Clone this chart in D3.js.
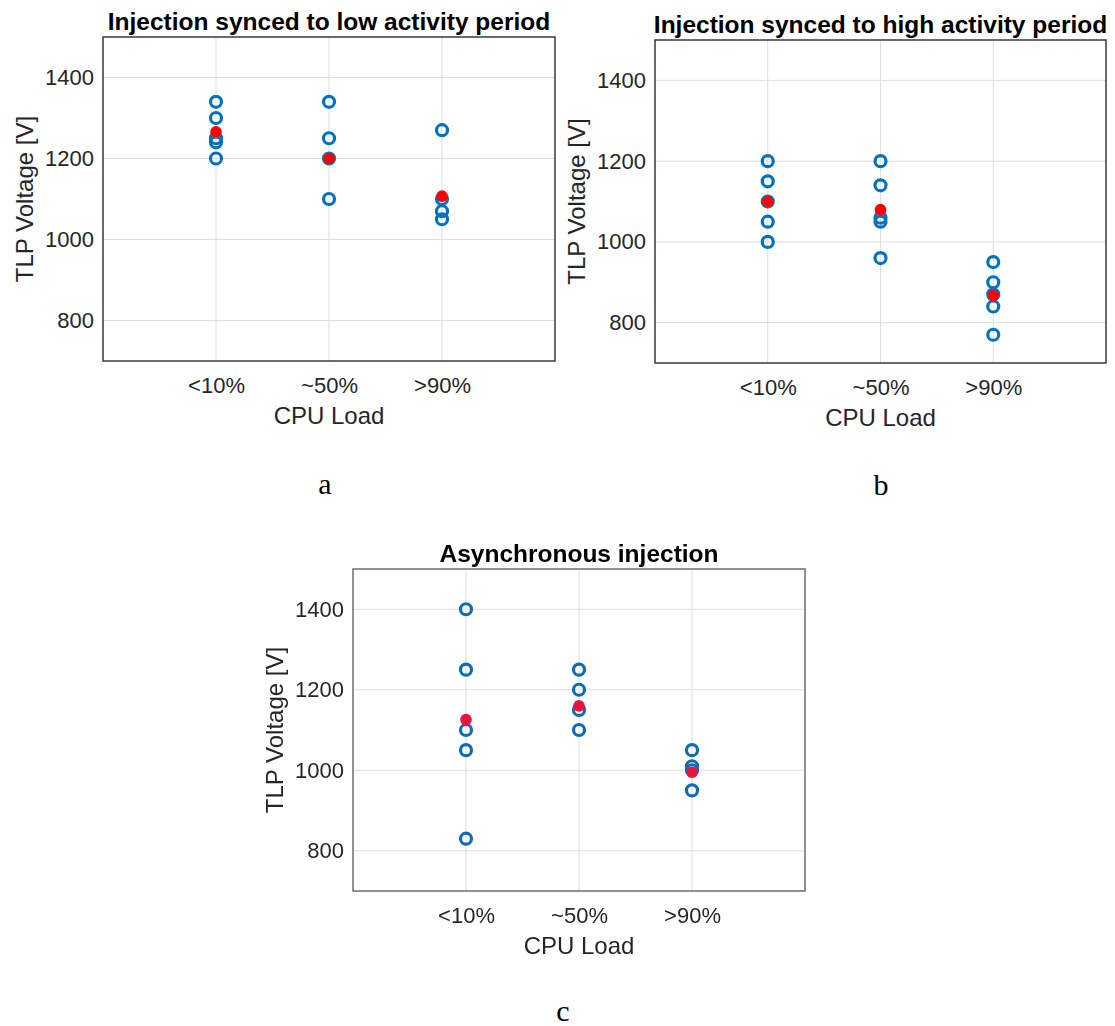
<!DOCTYPE html>
<html>
<head>
<meta charset="utf-8">
<script src="https://cdn.jsdelivr.net/npm/d3@7"></script>
<style>
  html, body { margin: 0; padding: 0; background: #ffffff; }
  svg { display: block; }
</style>
</head>
<body>
<svg id="fig" width="1115" height="1026"></svg>
<script>
// CPU load categories and y-axis ticks shared by all three panels
const categories = ["<10%", "~50%", ">90%"];
const yTicks = [800, 1000, 1200, 1400];
const yDomain = [700, 1500];

// (a) Injection synced to low activity period
const lowActivityPoints = [
  [1340, 1300, 1250, 1240, 1200],
  [1340, 1250, 1200, 1100],
  [1270, 1100, 1070, 1050]
];
const lowActivityMeans = [1266, 1200, 1107];

// (b) Injection synced to high activity period
const highActivityPoints = [
  [1200, 1150, 1100, 1050, 1000],
  [1200, 1140, 1060, 1050, 960],
  [950, 900, 870, 840, 770]
];
const highActivityMeans = [1100, 1080, 867];

// (c) Asynchronous injection
const asyncPoints = [
  [1400, 1250, 1100, 1050, 830],
  [1250, 1200, 1150, 1100],
  [1050, 1010, 1000, 950]
];
const asyncMeans = [1126, 1160, 995];

const svg = d3.select("#fig");
const FONT = "'Liberation Sans', Arial, sans-serif";

// soft focus used on the lower panel
svg.append("defs").append("filter").attr("id", "soft")
  .append("feGaussianBlur").attr("stdDeviation", 0.55);

function drawPanel(opt) {
  const g = svg.append("g");
  if (opt.soft) g.attr("filter", "url(#soft)");

  const x = d3.scalePoint().domain(categories).range([opt.left, opt.right]).padding(1);
  const y = d3.scaleLinear().domain(yDomain).range([opt.bottom, opt.top]);

  // grid
  g.append("g").selectAll("line.vg").data(categories).join("line")
    .attr("x1", d => x(d)).attr("x2", d => x(d))
    .attr("y1", opt.top).attr("y2", opt.bottom)
    .attr("stroke", "#dedede").attr("stroke-width", 1);
  g.append("g").selectAll("line.hg").data(yTicks).join("line")
    .attr("x1", opt.left).attr("x2", opt.right)
    .attr("y1", d => y(d)).attr("y2", d => y(d))
    .attr("stroke", "#dedede").attr("stroke-width", 1);

  // axes with tick labels
  const yAxis = d3.axisLeft(y).tickValues(yTicks).tickSize(0).tickPadding(9).tickFormat(d3.format("d"));
  const yg = g.append("g").attr("transform", `translate(${opt.left},0)`).call(yAxis);
  yg.select(".domain").remove();
  yg.selectAll("text").attr("font-family", FONT).attr("font-size", 22).attr("fill", "#262626");

  const xAxis = d3.axisBottom(x).tickSize(0).tickPadding(16);
  const xg = g.append("g").attr("transform", `translate(0,${opt.bottom})`).call(xAxis);
  xg.select(".domain").remove();
  xg.selectAll("text").attr("font-family", FONT).attr("font-size", 22).attr("fill", "#262626");

  // frame
  g.append("rect")
    .attr("x", opt.left).attr("y", opt.top)
    .attr("width", opt.right - opt.left).attr("height", opt.bottom - opt.top)
    .attr("fill", "none").attr("stroke", opt.frame).attr("stroke-width", 1.5);

  // measurements: open circles
  const pts = [];
  opt.points.forEach((arr, i) => arr.forEach(v => pts.push({ c: categories[i], v })));
  g.append("g").selectAll("circle").data(pts).join("circle")
    .attr("cx", d => x(d.c)).attr("cy", d => y(d.v)).attr("r", 5.5)
    .attr("fill", "none").attr("stroke", opt.blue).attr("stroke-width", 3.2);

  // averages: filled red dots
  g.append("g").selectAll("circle").data(opt.means).join("circle")
    .attr("cx", (d, i) => x(categories[i])).attr("cy", d => y(d)).attr("r", 5.8)
    .attr("fill", opt.red);

  // title and axis labels
  const cx = (opt.left + opt.right) / 2;
  g.append("text").attr("x", cx).attr("y", opt.top - 7.5)
    .attr("text-anchor", "middle").attr("font-family", FONT)
    .attr("font-weight", "bold").attr("font-size", 24.5).attr("fill", "#000")
    .text(opt.title);
  g.append("text").attr("x", cx).attr("y", opt.bottom + 63)
    .attr("text-anchor", "middle").attr("font-family", FONT)
    .attr("font-size", 24).attr("fill", "#262626").text("CPU Load");
  g.append("text")
    .attr("transform", `translate(${opt.left - 70},${(opt.top + opt.bottom) / 2}) rotate(-90)`)
    .attr("text-anchor", "middle").attr("font-family", FONT)
    .attr("font-size", 24).attr("fill", "#262626").text("TLP Voltage [V]");

  // panel letter
  svg.append("text").attr("x", opt.letterX).attr("y", opt.letterY)
    .attr("text-anchor", "middle").attr("font-family", "'Liberation Serif', 'Times New Roman', serif")
    .attr("font-size", 30).attr("fill", "#000").text(opt.letter);
}

drawPanel({
  left: 103, right: 555, top: 37, bottom: 361,
  title: "Injection synced to low activity period",
  points: lowActivityPoints, means: lowActivityMeans,
  blue: "#0072BD", red: "#FF0000", frame: "#3a3a3a",
  letter: "a", letterX: 325, letterY: 494
});

drawPanel({
  left: 655, right: 1106, top: 40, bottom: 363,
  title: "Injection synced to high activity period",
  points: highActivityPoints, means: highActivityMeans,
  blue: "#0072BD", red: "#FF0000", frame: "#3a3a3a",
  letter: "b", letterX: 881, letterY: 495
});

drawPanel({
  left: 353, right: 805, top: 569, bottom: 891,
  title: "Asynchronous injection",
  points: asyncPoints, means: asyncMeans,
  blue: "#0b6cb3", red: "#e8123e", frame: "#6e6e6e", soft: true,
  letter: "c", letterX: 563, letterY: 1021
});
</script>
</body>
</html>
